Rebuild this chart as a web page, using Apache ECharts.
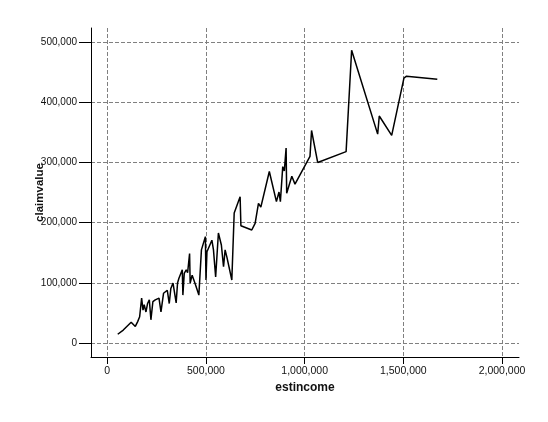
<!DOCTYPE html>
<html>
<head>
<meta charset="utf-8">
<script src="https://cdn.jsdelivr.net/npm/echarts@6/dist/echarts.min.js"></script>
<style>
  html, body { margin: 0; padding: 0; background: #fff; }
  #main { width: 548px; height: 422px; }
</style>
</head>
<body>
<div id="main"></div>
<script>
  // estimated income (x) and claim value (y), in x order
  var estincome = [
    53000, 81000, 121000, 129000, 142000, 154000, 164000, 174000, 181000, 187000,
    196000, 204000, 213000, 221000, 231000, 243000, 253000, 262000, 272000, 285000,
    295000, 304000, 314000, 322000, 333000, 339000, 349000, 356000, 363000, 369000,
    380000, 383000, 390000, 400000, 407000, 417000, 420000, 430000, 444000, 464000,
    477000, 487000, 497000, 500000, 505000, 514000, 530000, 538000, 549000, 563000,
    570000, 578000, 589000, 597000, 606000, 631000, 643000, 673000, 677000, 732000,
    749000, 766000, 778000, 821000, 857000, 870000, 877000, 889000, 897000, 906000,
    909000, 918000, 935000, 951000, 1027000, 1035000, 1066000, 1210000, 1238000, 1370000,
    1378000, 1441000, 1503000, 1516000, 1672000
  ]
  var claimvalue = [
    15000, 22000, 35000, 33000, 28000, 36000, 44000, 75000, 55000, 64000,
    52000, 66000, 72000, 39000, 69000, 72000, 69000, 75000, 52000, 83000,
    86000, 88000, 66000, 91000, 100000, 103000, 67000, 100000, 108000, 110000,
    122000, 80000, 116000, 122000, 117000, 149000, 100000, 113000, 100000, 80000,
    155000, 158000, 177000, 105000, 152000, 155000, 171000, 155000, 110000, 183000,
    186000, 163000, 127000, 155000, 143000, 105000, 216000, 243000, 195000, 188000,
    199000, 232000, 226000, 285000, 235000, 251000, 235000, 293000, 286000, 324000,
    249000, 249000, 277000, 264000, 310000, 353000, 300000, 318000, 486000, 347000,
    377000, 345000, 440000, 443000, 438000
  ]
  var xTicks = [0, 500000, 1000000, 1500000, 2000000]
  var yTicks = [0, 100000, 200000, 300000, 400000, 500000]

  var points = []
  for (var i = 0; i < estincome.length; i++) {
    points.push([estincome[i], claimvalue[i]])
  }

  function fmt (v) {
    return v.toString().replace(/\B(?=(\d{3})+(?!\d))/g, ',')
  }

  var chart = echarts.init(document.getElementById('main'))
  chart.setOption({
    animation: false,
    backgroundColor: '#fff',
    grid: {
      left: 91,
      right: 29,
      top: 28,
      bottom: 65
    },
    xAxis: {
      type: 'value',
      min: -82500,
      max: 2086000,
      name: 'estincome',
      nameLocation: 'middle',
      nameGap: 25,
      nameMoveOverlap: false,
      nameTextStyle: { fontFamily: 'Liberation Sans', fontSize: 12, fontWeight: 'bold', color: '#111' },
      axisLine: { onZero: false, lineStyle: { color: '#000', width: 1 } },
      axisTick: { customValues: xTicks, length: 7, lineStyle: { color: '#000' } },
      axisLabel: {
        customValues: xTicks,
        formatter: fmt,
        margin: 9,
        fontFamily: 'Liberation Sans',
        fontSize: 10.5,
        color: '#111'
      },
      splitLine: { show: true, lineStyle: { color: '#808080', type: [4, 2], width: 1 } }
    },
    yAxis: {
      type: 'value',
      min: -22700,
      max: 523000,
      name: 'claimvalue',
      nameLocation: 'middle',
      nameGap: 45,
      nameMoveOverlap: false,
      nameTextStyle: { fontFamily: 'Liberation Sans', fontSize: 11.5, fontWeight: 'bold', color: '#111' },
      axisLine: { show: true, onZero: false, lineStyle: { color: '#000', width: 1 } },
      axisTick: { show: true, customValues: yTicks, length: 12, lineStyle: { color: '#000' } },
      axisLabel: {
        customValues: yTicks,
        formatter: fmt,
        margin: 14,
        fontFamily: 'Liberation Sans',
        fontSize: 10,
        color: '#111'
      },
      splitLine: { show: true, lineStyle: { color: '#808080', type: [4, 2], width: 1 } }
    },
    series: [
      {
        type: 'line',
        data: points,
        showSymbol: false,
        symbol: 'none',
        lineStyle: { color: '#000', width: 1.5 }
      }
    ]
  })
</script>
</body>
</html>
